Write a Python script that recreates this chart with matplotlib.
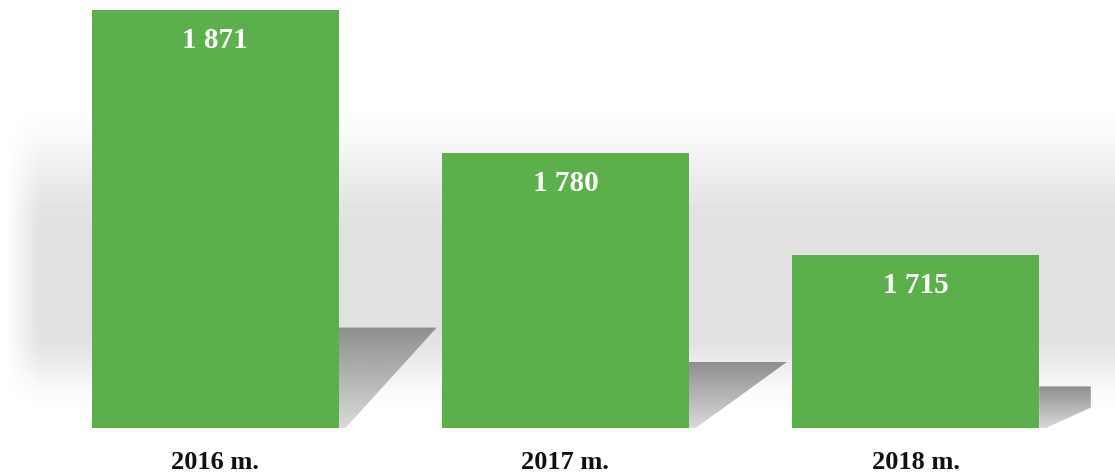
import numpy as np
import matplotlib
matplotlib.use("Agg")
from matplotlib import pyplot as plt
from matplotlib.patches import Polygon

years = ["2016 m.", "2017 m.", "2018 m."]
values = [1871, 1780, 1715]
value_labels = ["1 871", "1 780", "1 715"]

base = 1605
bar_color = "#5cb04c"
serif = ["Liberation Serif", "DejaVu Serif"]

fig = plt.figure(figsize=(11.15, 4.75), dpi=100)
ax = fig.add_axes([0, 0, 1, 1])
ax.axis("off")

# soft gray band in the background
h, w = 475, 1115
yy = np.arange(h)[:, None]
xx = np.arange(w)[None, :]
up = np.clip((yy - 95) / 140, 0, 1)
down = np.clip((415 - yy) / 90, 0, 1)
band = (up * up * (3 - 2 * up)) * (down * down * (3 - 2 * down))
left = np.clip((xx - 5) / 35, 0, 1)
gray = 1 - 0.12 * band * left
ax.imshow(gray, cmap="gray", vmin=0, vmax=1, extent=[0, 1, 0, 1],
          transform=ax.transAxes, aspect="auto", zorder=0, interpolation="bilinear")

x = np.arange(len(values))
width = 0.705
x_clip = 2.50

# shadows to the right of the bars
for xi, v in zip(x, values):
    r = xi + width / 2
    st = base + 0.24 * (v - base)
    sw = 0.28
    if r + sw > x_clip:
        frac = (x_clip - r - 0.02) / (sw - 0.02)
        pts = [(r, base), (r, st), (x_clip, st),
               (x_clip, st - (st - base) * (1 - frac)), (r + 0.02, base)]
    else:
        pts = [(r, base), (r, st), (r + sw, st), (r + 0.02, base)]
    poly = Polygon(pts, closed=True, facecolor="none", edgecolor="none")
    ax.add_patch(poly)
    grad = np.linspace(0.56, 0.85, 100)[:, None] * np.ones((1, 10))
    im = ax.imshow(grad, cmap="gray", vmin=0, vmax=1, extent=[r, r + sw + 0.02, base, st],
                   origin="upper", aspect="auto", zorder=1, interpolation="bilinear")
    im.set_clip_path(poly)

ax.bar(x, [v - base for v in values], bottom=base, width=width, color=bar_color, zorder=2)

for xi, v, lab in zip(x, values, value_labels):
    ax.annotate(lab, (xi, v), xytext=(0, -22), textcoords="offset points",
                ha="center", va="center", color="white", fontsize=21,
                fontweight="bold", family=serif, zorder=3)

for xi, lab in zip(x, years):
    ax.text(xi, 0.027, lab, transform=ax.get_xaxis_transform(), ha="center", va="center",
            fontsize=19, fontweight="bold", family=serif, color="#111111")

ax.set_xlim(-0.614, 2.569)
ax.set_ylim(1575, 1877.4)
fig.savefig("out.png", dpi=100)
